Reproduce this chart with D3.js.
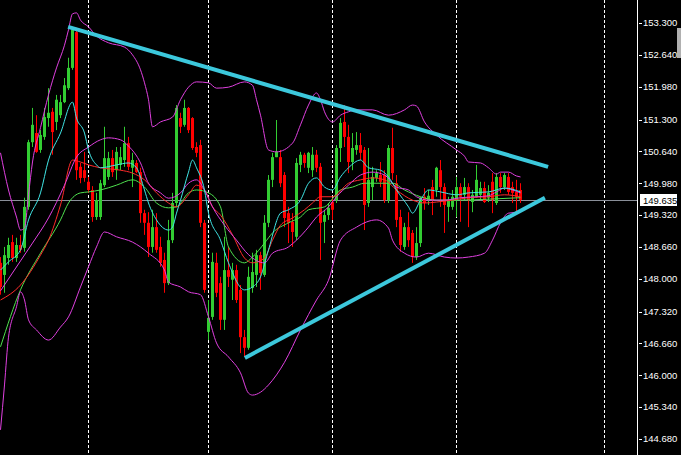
<!DOCTYPE html>
<html><head><meta charset="utf-8">
<script src="https://cdn.jsdelivr.net/npm/d3@7"></script>
<style>html,body{margin:0;padding:0;background:#000;overflow:hidden}</style>
</head><body><svg id="c" width="681" height="455"></svg>
<script>
// ---- data: H4 candles (price) ----
const barOpen = [
148.33,148.08,148.43,148.76,148.43,148.70,148.64,149.49,150.83,151.02,
150.67,150.94,151.33,151.46,151.25,151.39,151.66,151.95,152.37,153.11,
150.32,150.25,150.01,149.84,149.28,149.28,149.94,150.11,150.50,150.25,
150.36,150.46,150.81,150.30,150.40,150.21,149.36,149.16,148.66,149.07,
148.66,148.39,147.91,148.80,149.57,151.33,151.19,151.54,151.33,150.73,
150.77,149.16,146.90,147.21,148.33,147.91,147.15,148.18,147.98,148.18,
147.77,146.79,146.57,147.81,148.08,148.49,148.08,149.16,150.05,150.52,
150.52,150.15,149.36,149.18,148.87,150.36,150.57,150.30,150.25,150.57,
150.32,149.18,149.32,149.59,149.63,150.71,151.25,150.94,150.42,150.67,
150.77,150.67,149.57,149.90,150.09,150.15,150.15,149.63,150.71,149.98,
149.28,148.66,149.07,148.95,148.45,148.74,149.70,149.63,149.90,149.84,
150.25,149.90,149.49,149.49,149.63,149.90,149.74,149.90,149.59,149.70,
149.74,149.88,149.68,150.01,149.57,150.11,149.90,150.11,149.90,149.80,
149.84];
const barHigh = [
148.45,148.66,148.85,148.91,148.85,148.91,149.68,150.88,151.54,151.39,
151.08,151.54,151.95,151.54,151.81,151.81,152.16,152.58,153.22,153.20,
150.40,150.63,150.11,149.92,149.78,150.05,151.15,150.63,150.67,150.73,
150.73,151.15,150.94,150.61,150.46,150.30,149.43,149.38,149.43,149.36,
148.87,148.54,149.22,149.78,151.60,151.44,151.71,151.56,151.35,150.83,
150.88,149.22,147.56,148.54,148.54,148.04,148.87,148.66,148.33,148.29,
147.87,146.94,148.25,148.54,148.60,148.56,149.32,150.15,150.61,151.29,
150.67,150.21,149.49,149.36,150.50,150.63,150.61,150.63,150.73,150.67,
150.40,149.43,149.57,149.68,150.77,151.33,151.60,151.19,151.02,151.04,
151.02,150.73,150.71,150.32,150.25,150.42,150.25,150.77,151.13,150.15,
149.43,149.16,149.38,149.01,149.07,149.70,149.88,149.84,150.05,150.32,
150.46,149.98,149.70,149.84,150.11,149.98,150.09,149.98,149.84,150.36,
150.01,150.01,149.94,150.19,150.19,150.19,150.19,150.19,150.01,150.05,
149.98];
const barLow = [
147.67,147.71,148.29,148.35,148.35,148.54,148.56,149.43,150.73,150.61,
150.61,150.88,151.15,150.57,151.08,151.33,151.64,151.91,152.33,150.05,
149.98,150.01,149.78,149.18,149.22,149.22,149.90,150.05,150.11,150.05,
150.25,150.32,150.25,149.90,150.19,149.16,148.91,148.45,148.54,148.54,
148.25,147.71,147.87,148.74,149.49,151.02,151.15,151.02,150.67,150.52,
149.07,147.71,146.73,147.15,147.62,146.94,146.94,147.83,147.56,147.50,
146.46,146.38,146.53,147.71,147.83,147.77,148.04,149.07,149.90,150.52,
149.90,149.07,148.74,148.66,148.80,150.21,150.30,150.19,150.11,150.21,
148.39,148.74,149.22,149.22,149.57,150.42,150.73,150.19,150.25,150.57,
150.46,149.01,149.49,149.63,150.01,149.90,149.57,149.57,150.05,149.07,
148.56,148.60,148.66,148.33,148.39,148.66,149.43,149.53,149.32,149.70,
149.49,148.95,149.18,149.43,149.28,149.18,149.63,149.07,149.38,149.68,
149.63,149.57,149.59,149.36,149.53,149.78,149.84,149.74,149.57,149.38,
149.57];
const barClose = [
147.83,148.49,148.70,148.43,148.70,148.60,149.49,150.83,151.19,150.63,
150.98,151.35,151.44,151.04,151.71,151.66,152.01,152.37,153.16,150.25,
150.09,150.09,149.84,149.28,149.63,149.98,150.50,150.50,150.21,150.63,
150.52,150.81,150.32,150.46,150.21,149.36,149.16,148.66,149.07,148.60,
148.33,147.91,148.80,149.57,151.54,151.15,151.54,151.08,150.71,150.61,
149.16,147.77,147.19,148.35,147.71,147.15,148.18,148.04,148.18,147.56,
146.79,146.57,148.04,148.14,148.49,148.12,149.16,150.05,150.52,150.63,
149.98,149.26,149.16,148.97,150.40,150.57,150.40,150.61,150.57,150.30,
149.16,149.32,149.47,149.43,150.71,151.23,150.94,150.42,150.71,150.77,
150.61,149.53,150.05,150.11,150.19,150.01,149.63,150.71,150.19,149.22,
148.70,149.07,148.80,148.45,148.74,149.68,149.57,149.72,149.63,150.30,
149.90,149.53,149.63,149.70,149.90,149.70,149.90,149.63,149.74,150.05,
149.88,149.59,149.78,149.63,150.11,149.90,150.15,149.80,149.78,149.70,
149.635];

// ---- indicators: [bar, price] ----
const bbUpper = [[0,150.61],[2,149.84],[4,149.28],[5,149.01],[6,149.05],[7,149.74],[8,150.42],[10,151.13],[12,151.81],[14,152.37],[16,152.84],[17,153.16],[18,153.49],[19,153.51],[20,153.36],[22,153.22],[24,153.03],[27,152.89],[31,152.80],[33,152.64],[35,152.33],[36,152.06],[37,151.71],[38,151.15],[40,151.25],[43,151.35],[45,151.71],[47,151.97],[49,152.08],[52,152.06],[54,151.95],[57,151.97],[61,152.08],[63,152.01],[64,151.71],[65,151.39],[67,150.67],[69,150.63],[73,150.81],[75,151.19],[77,151.60],[79,151.85],[80,151.71],[81,151.46],[83,151.25],[85,151.39],[87,151.46],[89,151.50],[93,151.50],[97,151.39],[101,151.50],[103,151.60],[104,151.58],[106,151.25],[109,150.98],[114,150.67],[116,150.54],[117,150.42],[120,150.40],[122,150.30],[124,150.17],[125,150.21],[127,150.21],[129,150.13],[130,150.11]];
const bbLower = [[0,144.87],[1,145.80],[2,146.79],[4,147.42],[5,147.73],[6,147.56],[7,147.15],[9,146.94],[12,146.73],[15,147.00],[17,147.21],[20,147.83],[22,148.25],[24,148.66],[26,148.97],[29,148.87],[33,148.76],[37,148.53],[41,148.18],[42,147.93],[45,147.83],[47,147.73],[50,147.67],[52,147.21],[54,146.67],[57,146.38],[60,146.05],[62,145.63],[63,145.59],[65,145.65],[67,145.80],[71,146.27],[75,146.94],[79,147.56],[82,147.97],[85,148.80],[89,149.07],[94,149.22],[97,149.05],[98,148.80],[101,148.53],[104,148.45],[107,148.53],[111,148.45],[114,148.43],[117,148.45],[121,148.53],[123,148.80],[125,149.16],[127,149.36],[130,149.38]];
const bbMiddle = [[0,147.75],[5,148.37],[8,148.74],[12,149.26],[16,149.94],[19,150.52],[22,150.73],[25,150.88],[27,150.92],[30,150.88],[32,150.75],[35,150.40],[37,149.98],[40,149.78],[42,149.67],[45,149.78],[47,149.98],[49,150.05],[51,149.84],[53,149.49],[56,149.11],[59,148.80],[62,148.50],[66,148.33],[68,148.53],[72,148.66],[74,148.80],[77,149.07],[79,149.28],[82,149.49],[84,149.70],[87,149.94],[90,150.15],[93,150.21],[96,150.15],[99,149.90],[102,149.84],[104,149.70],[107,149.63],[111,149.63],[115,149.68],[119,149.70],[122,149.72],[124,149.80],[126,149.88],[128,149.84],[130,149.78]];
const maFast = [[0,148.18],[2,148.35],[5,148.60],[7,149.22],[10,149.78],[12,150.46],[15,151.02],[18,151.66],[19,151.33],[21,151.02],[22,150.67],[24,150.36],[25,150.30],[29,150.36],[32,150.40],[34,150.30],[36,149.84],[37,149.57],[39,149.22],[42,149.01],[43,149.07],[44,149.36],[45,149.63],[47,150.21],[48,150.46],[49,150.30],[51,149.84],[52,149.36],[55,148.80],[57,148.33],[61,147.77],[63,147.83],[65,148.04],[67,148.60],[70,149.36],[72,149.43],[75,149.63],[77,149.98],[79,150.09],[81,149.90],[83,149.84],[85,150.11],[87,150.30],[90,150.46],[92,150.30],[95,150.25],[97,150.11],[99,149.84],[102,149.49],[103,149.36],[105,149.63],[107,149.84],[110,149.80],[114,149.74],[117,149.78],[122,149.80],[126,149.88],[130,149.80]];
const maMid = [[0,147.56],[5,147.87],[10,148.49],[12,148.80],[15,149.53],[18,150.46],[20,150.42],[22,150.36],[25,150.30],[30,150.25],[33,150.19],[36,150.05],[39,149.78],[42,149.57],[44,149.49],[47,149.74],[49,149.94],[51,149.84],[53,149.49],[55,149.32],[58,148.91],[61,148.43],[63,148.33],[66,148.43],[68,148.80],[70,149.11],[73,149.26],[76,149.43],[78,149.57],[80,149.70],[83,149.70],[87,149.98],[90,150.05],[93,150.09],[96,150.05],[99,149.84],[103,149.63],[106,149.57],[109,149.59],[113,149.63],[117,149.68],[122,149.70],[126,149.74],[130,149.70]];
const maSlow = [[0,146.59],[5,147.77],[10,148.53],[15,149.22],[17,149.57],[20,149.78],[22,149.80],[25,149.84],[29,149.94],[33,150.05],[36,149.90],[39,149.57],[42,149.47],[44,149.49],[47,149.78],[49,149.84],[52,149.78],[55,149.49],[57,148.66],[61,148.33],[63,148.45],[66,148.74],[68,148.95],[72,149.16],[75,149.28],[77,149.43],[81,149.49],[85,149.84],[88,149.90],[91,149.98],[95,149.98],[98,149.98],[101,149.84],[105,149.70],[109,149.63],[115,149.63],[122,149.65],[130,149.68]];

// ---- trend lines, separators, axis ----
const trendUpper = [[16.9,153.22],[136.9,150.32]];
const trendLower = [[61.1,146.36],[136.1,149.68]];
const separatorBars = [22,52,83,114,151];
const tickLabels = ["153.300","152.640","151.980","151.300","150.640","149.980","149.320","148.660","148.000","147.320","146.660","146.000","145.340","144.680"];
const currentPrice = 149.635;

// ---- drawing ----
const W = 681, H = 455, plotRight = 637;
const svg = d3.select("#c");
svg.append("rect").attr("width",W).attr("height",H).attr("fill","#000");

const x = d3.scaleLinear().domain([0,130]).range([0.5,520.5]);
const y = d3.scaleLinear().domain([144.68,153.30]).range([439,23]);

svg.append("defs").append("clipPath").attr("id","plot")
  .append("rect").attr("x",0).attr("y",0).attr("width",plotRight).attr("height",H);
const g = svg.append("g").attr("clip-path","url(#plot)");

// separators
g.selectAll("line.sep").data(separatorBars).enter().append("line")
  .attr("x1",d=>x(d)).attr("x2",d=>x(d)).attr("y1",0).attr("y2",H)
  .attr("stroke","#ffffff").attr("stroke-width",1).attr("stroke-dasharray","3,2");

// current price line
const cy = Math.round(y(currentPrice)) + 0.5;
g.append("line").attr("x1",0).attr("x2",plotRight).attr("y1",cy).attr("y2",cy)
  .attr("stroke","#8a8f99").attr("stroke-width",1);

// candles
const bars = d3.range(barOpen.length).map(i=>({i,o:barOpen[i],h:barHigh[i],l:barLow[i],c:barClose[i]}));
const col = d=> d.c>=d.o ? "#32cd32" : "#ff0000";
g.selectAll("line.wick").data(bars).enter().append("line")
  .attr("x1",d=>x(d.i)).attr("x2",d=>x(d.i))
  .attr("y1",d=>y(d.h)).attr("y2",d=>y(d.l))
  .attr("stroke",col).attr("stroke-width",1);
g.selectAll("rect.body").data(bars).enter().append("rect")
  .attr("x",d=>x(d.i)-1.5).attr("width",3)
  .attr("y",d=>y(Math.max(d.o,d.c)))
  .attr("height",d=>Math.max(1,Math.abs(y(d.o)-y(d.c))))
  .attr("fill",col);

// indicator lines
const line = d3.line().x(d=>x(d[0])).y(d=>y(d[1])).curve(d3.curveMonotoneX);
const series = [
  [maSlow,"#4ee04e"],[maMid,"#ff2a2a"],[bbMiddle,"#e040e0"],
  [maFast,"#40e6e6"],[bbUpper,"#e040e0"],[bbLower,"#e040e0"]
];
series.forEach(([d,c])=>{
  g.append("path").attr("d",line(d)).attr("fill","none").attr("stroke",c).attr("stroke-width",1);
});

// trend lines
const tline = d3.line().x(d=>x(d[0])).y(d=>y(d[1]));
[trendUpper,trendLower].forEach(d=>{
  g.append("path").attr("d",tline(d)).attr("fill","none")
   .attr("stroke","#3cc8dc").attr("stroke-width",4).attr("stroke-linecap","butt");
});

// price axis
svg.append("line").attr("x1",plotRight+0.5).attr("x2",plotRight+0.5).attr("y1",0).attr("y2",H)
  .attr("stroke","#ffffff").attr("stroke-width",1);
const ax = svg.append("g");
ax.selectAll("line.tk").data(tickLabels).enter().append("line")
  .attr("x1",plotRight+2).attr("x2",plotRight+5)
  .attr("y1",d=>Math.round(y(+d))+0.5).attr("y2",d=>Math.round(y(+d))+0.5)
  .attr("stroke","#ffffff");
ax.selectAll("text.tl").data(tickLabels).enter().append("text")
  .attr("x",plotRight+6).attr("y",d=>y(+d)).attr("dy","0.35em")
  .attr("fill","#ffffff").attr("font-family","Liberation Sans, Arial, sans-serif")
  .attr("font-size","9.5px").text(d=>d);

// current price label
ax.append("rect").attr("x",plotRight+3).attr("y",cy-6.5).attr("width",37).attr("height",12).attr("fill","#ffffff");
ax.append("text").attr("x",plotRight+6).attr("y",cy).attr("dy","0.35em")
  .attr("fill","#000").attr("font-family","Liberation Sans, Arial, sans-serif")
  .attr("font-size","9.5px").text(currentPrice.toFixed(3));

// chart-shift marker
svg.append("rect").attr("x",677).attr("y",28).attr("width",4).attr("height",30).attr("fill","#b0b0b0");
</script></body></html>
